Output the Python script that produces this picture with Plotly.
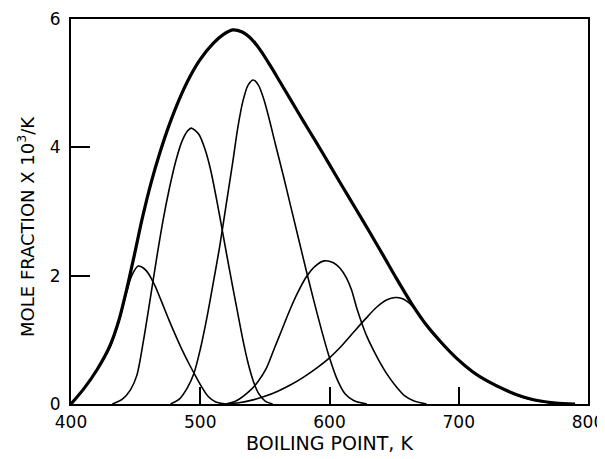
import plotly.graph_objects as go

# Envelope (thick) curve
env_x = [400, 410, 420, 430, 437, 443, 449, 455, 462, 469, 476, 484, 492, 500, 510, 518, 525,
         532, 540, 547, 554, 562, 570, 580, 590, 600, 610, 621, 631, 642, 652, 664, 675, 686,
         698, 711, 722, 737, 750, 762, 775, 790]
env_y = [0, 0.24, 0.53, 0.9, 1.3, 1.78, 2.32, 2.88, 3.45, 3.93, 4.35, 4.76, 5.1, 5.37, 5.62,
         5.76, 5.83, 5.8, 5.68, 5.5, 5.28, 5.01, 4.74, 4.4, 4.07, 3.73, 3.39, 3.02, 2.68, 2.3,
         1.95, 1.55, 1.23, 0.97, 0.72, 0.5, 0.36, 0.21, 0.11, 0.05, 0.015, 0]

# Component curves (thin)
c1_x = [400, 410, 420, 430, 437, 443, 447, 452, 456, 460, 465, 470, 476, 482, 487, 492, 496,
        501, 506, 512, 520]
c1_y = [0, 0.24, 0.53, 0.88, 1.28, 1.74, 2.0, 2.15, 2.12, 2.03, 1.84, 1.6, 1.3, 1.02, 0.8,
        0.6, 0.45, 0.27, 0.12, 0.03, 0]

c2_x = [432, 440, 446, 451, 456, 461, 466, 471, 476, 481, 486, 490, 493, 499, 504, 508, 513,
        518, 523, 528, 533, 537, 541, 545, 550, 556]
c2_y = [0, 0.08, 0.22, 0.45, 0.98, 1.6, 2.24, 2.84, 3.35, 3.78, 4.1, 4.25, 4.3, 4.2, 3.95,
        3.65, 3.15, 2.6, 2.05, 1.52, 1.0, 0.64, 0.36, 0.17, 0.05, 0]

c3_x = [477, 484, 490, 495, 500, 505, 510, 515, 520, 525, 529, 533, 537, 541, 545, 549, 553,
        558, 564, 570, 576, 582, 588, 594, 600, 606, 612, 619, 629]
c3_y = [0, 0.08, 0.25, 0.47, 0.85, 1.33, 1.88, 2.45, 3.1, 3.75, 4.3, 4.72, 4.97, 5.05, 4.97,
        4.76, 4.47, 4.06, 3.58, 3.08, 2.58, 2.08, 1.6, 1.14, 0.72, 0.38, 0.16, 0.05, 0]

c4_x = [520, 528, 538, 544, 551, 557, 563, 569, 575, 582, 589, 596, 603, 608, 613, 617, 621,
        625, 629, 634, 639, 645, 652, 658, 665, 675]
c4_y = [0, 0.05, 0.2, 0.33, 0.55, 0.85, 1.15, 1.45, 1.72, 1.98, 2.15, 2.23, 2.2, 2.12, 1.97,
        1.78, 1.5, 1.26, 1.05, 0.84, 0.65, 0.45, 0.26, 0.13, 0.05, 0]

c5_x = [520, 530, 540, 550, 560, 570, 580, 590, 600, 610, 620, 628, 636, 644, 651, 656, 660,
        664, 668, 675, 686, 698, 711, 722, 737, 750, 762, 775, 785]
c5_y = [0, 0.02, 0.06, 0.12, 0.2, 0.3, 0.42, 0.56, 0.72, 0.92, 1.15, 1.33, 1.5, 1.62, 1.66,
        1.645, 1.6, 1.53, 1.44, 1.22, 0.96, 0.71, 0.49, 0.355, 0.205, 0.1, 0.045, 0.012, 0]

x_ticks = [400, 500, 600, 700, 800]
y_ticks = [0, 2, 4, 6]
y_title = "MOLE FRACTION X 10<sup>3</sup>/K"

fig = go.Figure()
for cx, cy in [(c1_x, c1_y), (c2_x, c2_y), (c3_x, c3_y), (c4_x, c4_y), (c5_x, c5_y)]:
    fig.add_trace(go.Scatter(x=cx, y=cy, mode="lines",
                             line=dict(color="black", width=1.6, shape="spline", smoothing=0.8),
                             hoverinfo="skip", showlegend=False))
fig.add_trace(go.Scatter(x=env_x, y=env_y, mode="lines",
                         line=dict(color="black", width=3.2, shape="spline", smoothing=0.8),
                         hoverinfo="skip", showlegend=False))

# The page body adds an 8px margin, so the figure is sized/offset to compensate.
font = dict(family="DejaVu Sans", size=17, color="black")
fig.update_layout(
    width=597, height=451,
    margin=dict(l=63, r=17, t=11, b=55),
    paper_bgcolor="white", plot_bgcolor="white",
    font=font,
    xaxis=dict(range=[400, 800], tickvals=x_ticks, ticktext=[str(v) for v in x_ticks],
               ticks="inside", ticklen=17, tickwidth=2, tickcolor="black",
               showline=True, linecolor="black", linewidth=2.2, mirror=True,
               showgrid=False, zeroline=False, ticklabelstandoff=1, automargin=False,
               title=dict(text="BOILING POINT, K", font=dict(family="DejaVu Sans", size=19),
                          standoff=6)),
    yaxis=dict(range=[0, 6], tickvals=y_ticks, ticktext=[str(v) for v in y_ticks],
               ticks="inside", ticklen=19, tickwidth=2, tickcolor="black",
               showline=True, linecolor="black", linewidth=2.2, mirror=True,
               showgrid=False, zeroline=False, ticklabelstandoff=5, automargin=False),
    annotations=[dict(text=y_title, xref="paper", yref="paper", x=-0.087, y=0.46,
                      xanchor="center", yanchor="middle", textangle=-90, showarrow=False,
                      font=dict(family="DejaVu Sans", size=18, color="black"))],
)

fig.write_html("out.html")
